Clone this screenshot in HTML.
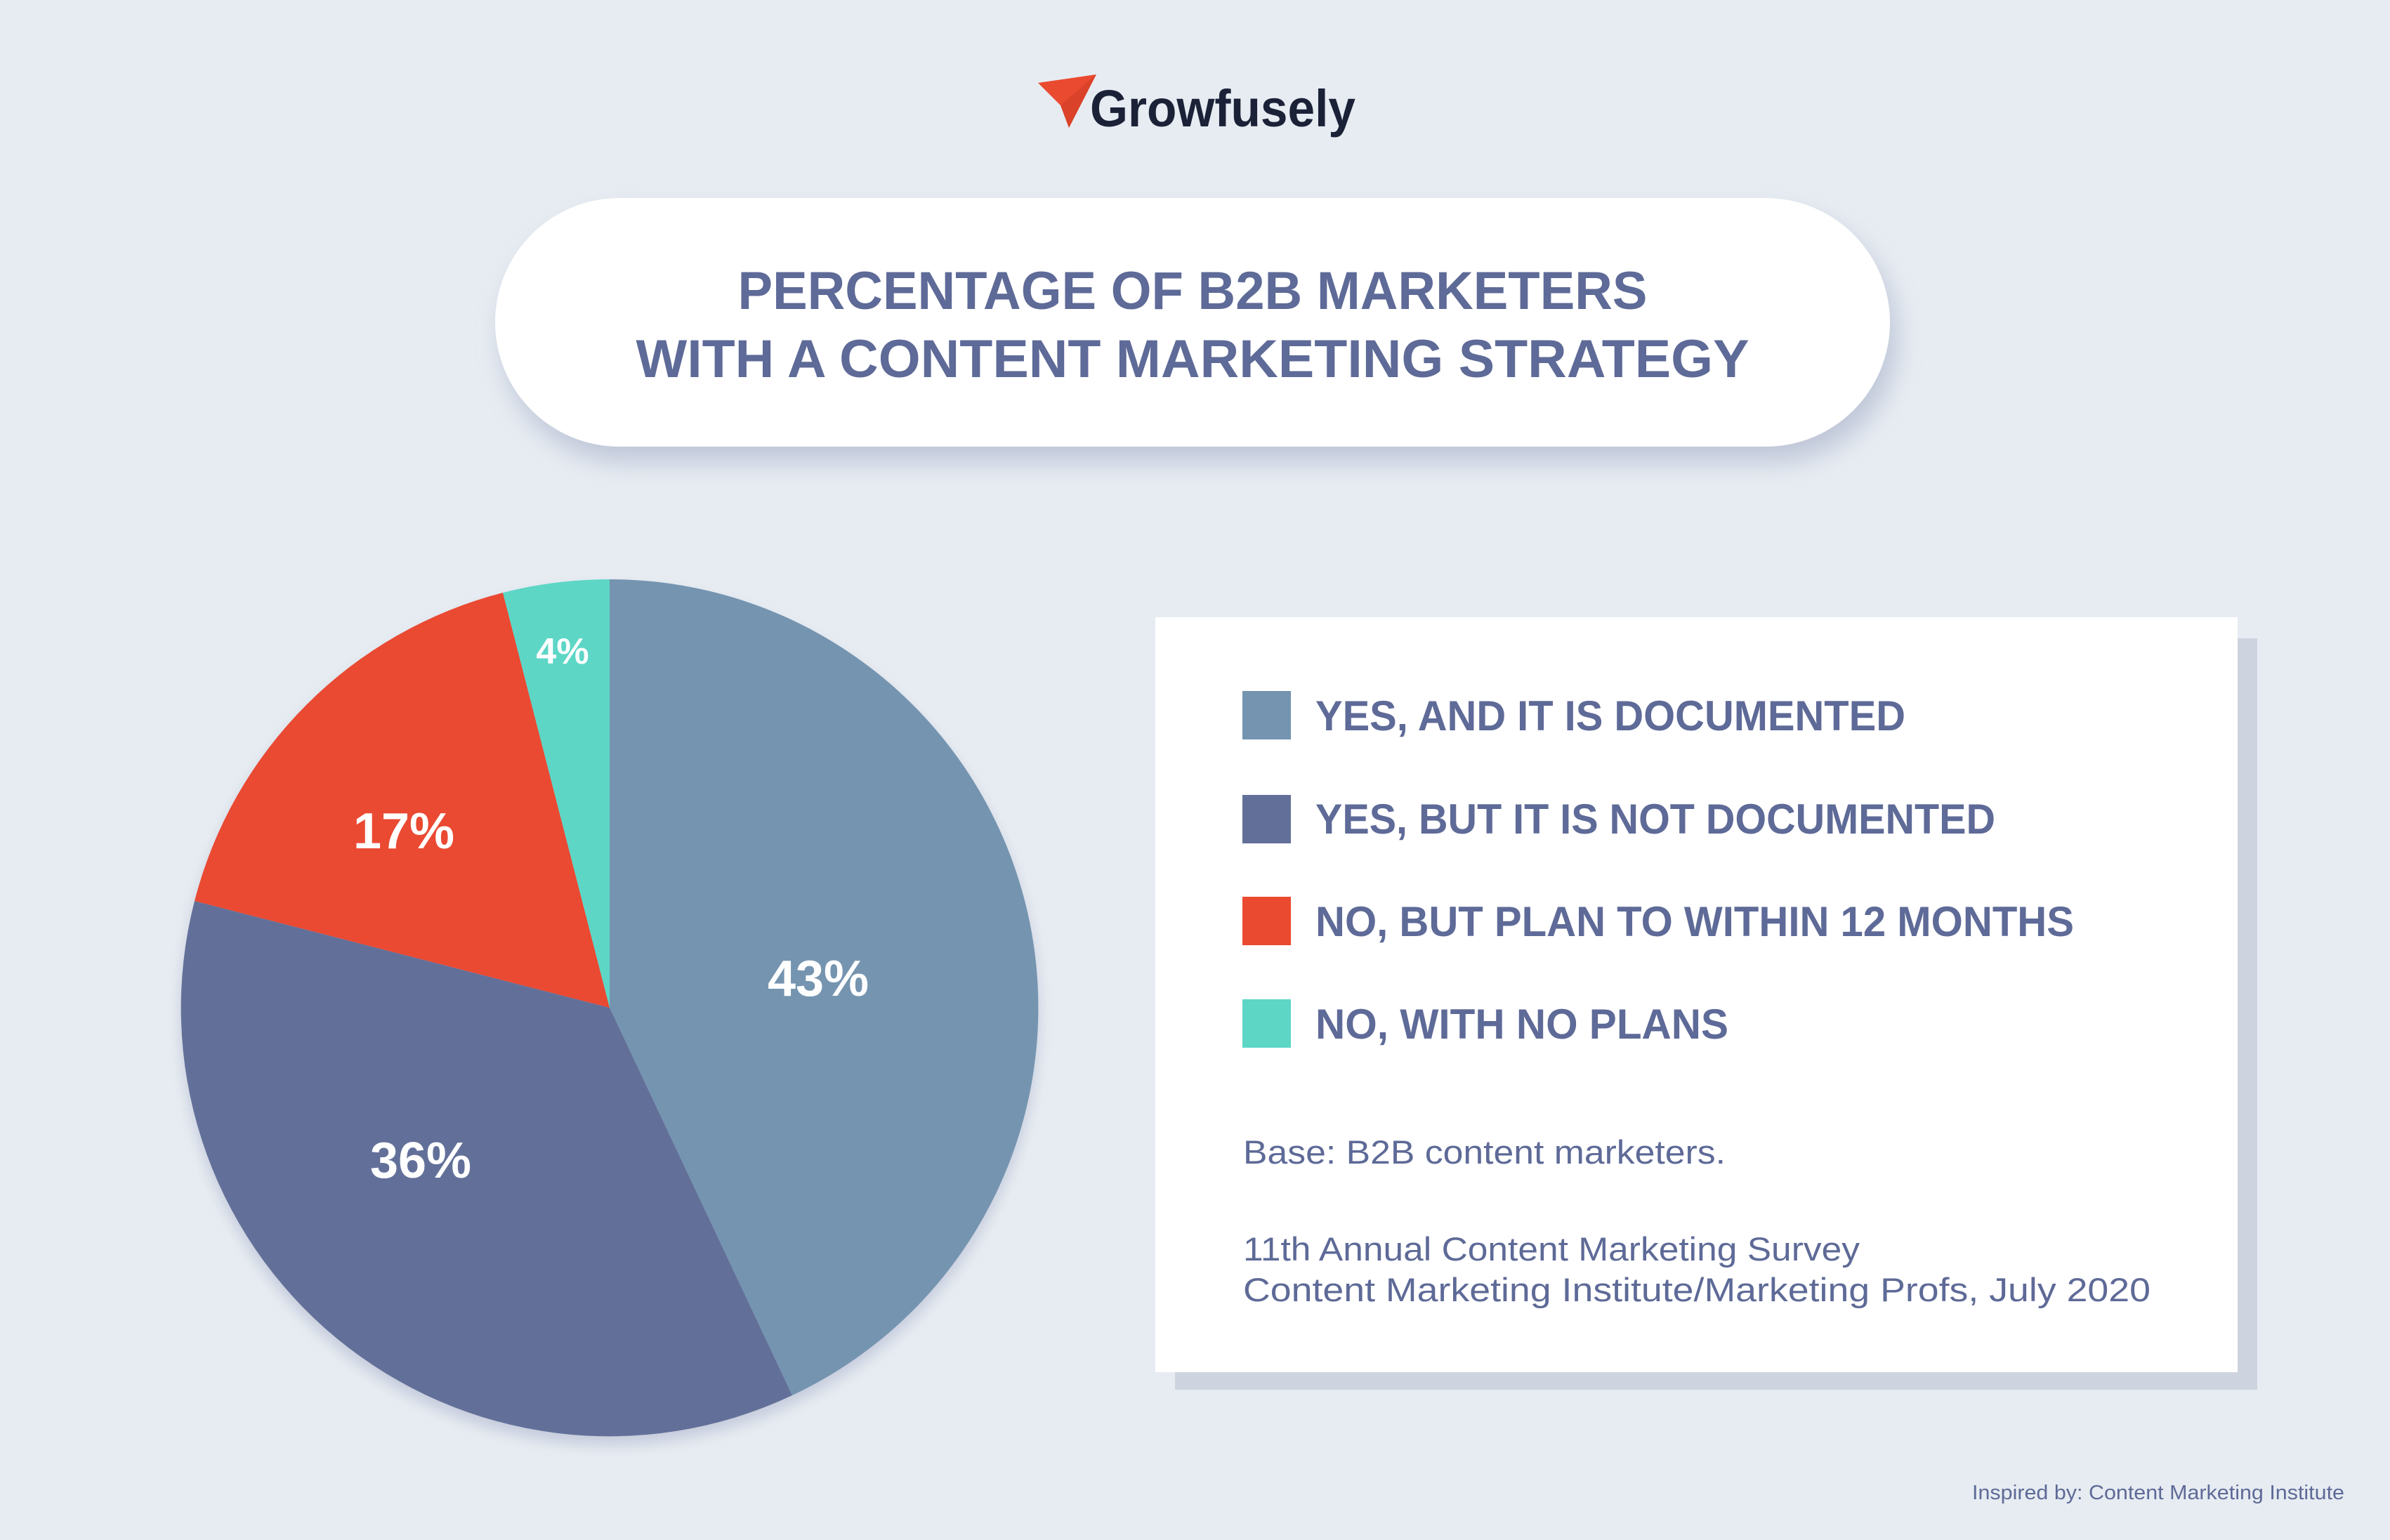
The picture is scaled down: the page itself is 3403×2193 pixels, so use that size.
<!DOCTYPE html>
<html><head><meta charset="utf-8"><style>
html,body{margin:0;padding:0;background:#e7ecf2;}
svg{display:block;}
</style></head><body>
<svg width="3403" height="2193" viewBox="0 0 3403 2193" xmlns="http://www.w3.org/2000/svg" font-family="Liberation Sans, sans-serif">
<defs>
<filter id="sh" x="-10%" y="-20%" width="120%" height="150%"><feDropShadow dx="10" dy="22" stdDeviation="18" flood-color="#8e98b8" flood-opacity="0.45"/></filter>
<filter id="ps" x="-10%" y="-10%" width="120%" height="120%"><feDropShadow dx="0" dy="12" stdDeviation="10" flood-color="#8e98b8" flood-opacity="0.4"/></filter>
</defs>
<rect width="3403" height="2193" fill="#e7ecf2"/>
<!-- logo -->
<polygon points="1478,118 1561,106 1522,182 1510,150" fill="#ea4a30"/>
<polygon points="1510,150 1561,106 1522,182" fill="#c93a22" opacity="0.5"/>
<text x="1552" y="180" font-size="74" font-weight="bold" fill="#1b2238" textLength="378" lengthAdjust="spacingAndGlyphs">Growfusely</text>
<!-- title pill -->
<rect x="705" y="282" width="1986" height="354" rx="177" fill="#ffffff" filter="url(#sh)"/>
<text x="1698" y="440" font-size="76" font-weight="bold" fill="#5e6a97" text-anchor="middle" textLength="1295" lengthAdjust="spacingAndGlyphs">PERCENTAGE OF B2B MARKETERS</text>
<text x="1698" y="537" font-size="76" font-weight="bold" fill="#5e6a97" text-anchor="middle" textLength="1585" lengthAdjust="spacingAndGlyphs">WITH A CONTENT MARKETING STRATEGY</text>
<!-- pie -->
<g filter="url(#ps)">
<path d="M868,1435 L868,825 A610,610 0 0,1 1128,1987 Z" fill="#7494b0"/>
<path d="M868,1435 L1128,1987 A610,610 0 0,1 277,1283 Z" fill="#626f99"/>
<path d="M868,1435 L277,1283 A610,610 0 0,1 716,844 Z" fill="#ea4a30"/>
<path d="M868,1435 L716,844 A610,610 0 0,1 868,825 Z" fill="#5dd6c6"/>
</g>
<g fill="#ffffff" font-weight="bold" text-anchor="middle">
<text x="1165" y="1418" font-size="72">43%</text>
<text x="599" y="1677" font-size="72">36%</text>
<text x="575" y="1208" font-size="72">17%</text>
<text x="801" y="945" font-size="52">4%</text>
</g>
<!-- legend box -->
<rect x="1673" y="909" width="1541" height="1070" fill="#cdd3df"/>
<rect x="1645" y="879" width="1541" height="1075" fill="#ffffff"/>
<rect x="1769" y="984" width="69" height="69" fill="#7494b0"/>
<rect x="1769" y="1132" width="69" height="69" fill="#626f99"/>
<rect x="1769" y="1277" width="69" height="69" fill="#ea4a30"/>
<rect x="1769" y="1423" width="69" height="69" fill="#5dd6c6"/>
<g fill="#5e6a97" font-weight="bold" font-size="60">
<text x="1873" y="1040" textLength="840" lengthAdjust="spacingAndGlyphs">YES, AND IT IS DOCUMENTED</text>
<text x="1873" y="1187" textLength="968" lengthAdjust="spacingAndGlyphs">YES, BUT IT IS NOT DOCUMENTED</text>
<text x="1873" y="1333" textLength="1080" lengthAdjust="spacingAndGlyphs">NO, BUT PLAN TO WITHIN 12 MONTHS</text>
<text x="1873" y="1479" textLength="588" lengthAdjust="spacingAndGlyphs">NO, WITH NO PLANS</text>
</g>
<g fill="#5e6a97" font-size="47">
<text x="1770" y="1657" textLength="687" lengthAdjust="spacingAndGlyphs">Base: B2B content marketers.</text>
<text x="1770" y="1795" textLength="878" lengthAdjust="spacingAndGlyphs">11th Annual Content Marketing Survey</text>
<text x="1770" y="1853" textLength="1292" lengthAdjust="spacingAndGlyphs">Content Marketing Institute/Marketing Profs, July 2020</text>
</g>
<text x="3338" y="2135" font-size="29" fill="#5e6a97" text-anchor="end" textLength="530" lengthAdjust="spacingAndGlyphs">Inspired by: Content Marketing Institute</text>
</svg>
</body></html>
